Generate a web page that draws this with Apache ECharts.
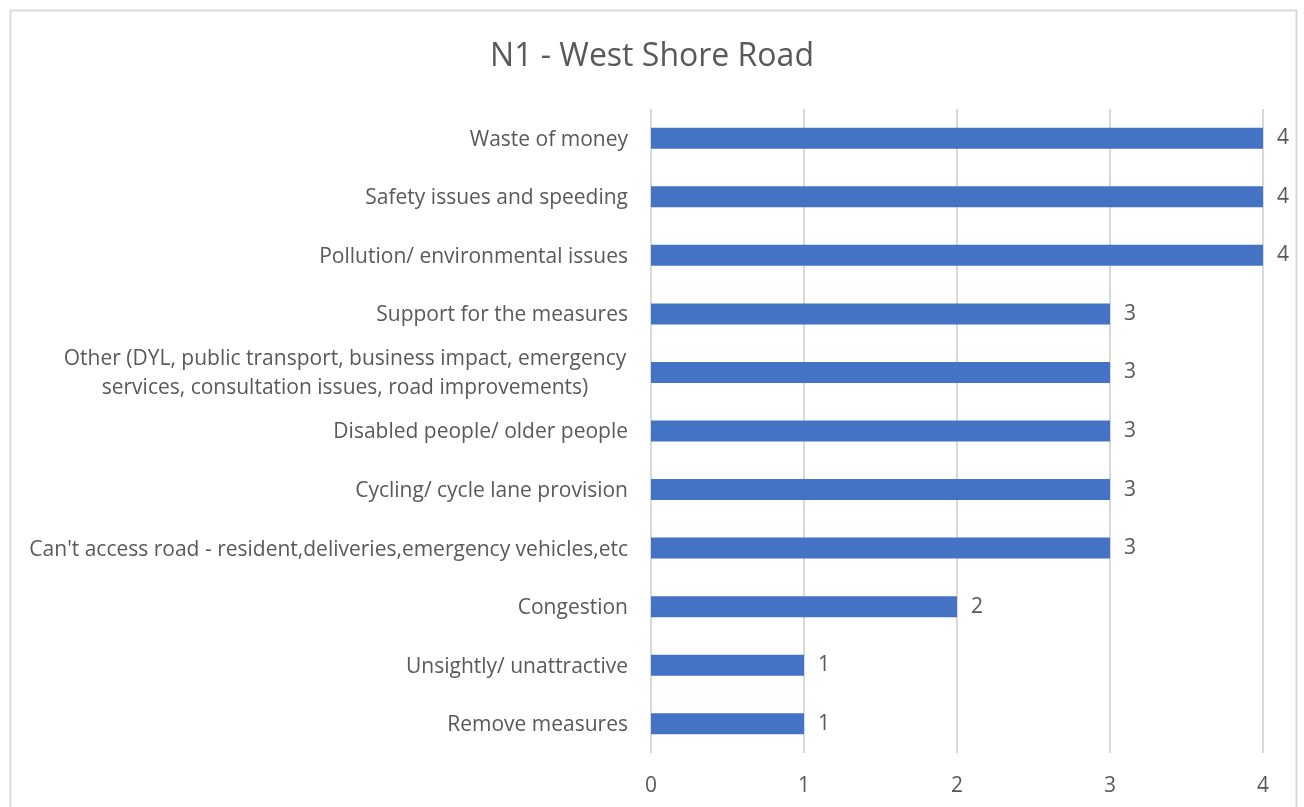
<!DOCTYPE html>
<html>
<head>
<meta charset="utf-8">
<script src="https://cdn.jsdelivr.net/npm/echarts@6/dist/echarts.min.js"></script>
<style>
  html, body { margin: 0; padding: 0; background: #fff; }
  #chart { width: 1304px; height: 807px; }
</style>
</head>
<body>
<div id="chart"></div>
<script>
// categories, top to bottom
const categories = [
    'Waste of money',
    'Safety issues and speeding',
    'Pollution/ environmental issues',
    'Support for the measures',
    'Other (DYL, public transport, business impact, emergency\nservices, consultation issues, road improvements)',
    'Disabled people/ older people',
    'Cycling/ cycle lane provision',
    "Can't access road - resident,deliveries,emergency vehicles,etc",
    'Congestion',
    'Unsightly/ unattractive',
    'Remove measures'
];
const counts = [4, 4, 4, 3, 3, 3, 3, 3, 2, 1, 1];
const xTicks = [0, 1, 2, 3, 4];

const textColor = '#595959';
const fontFamily = '"Open Sans", sans-serif';

const chart = echarts.init(document.getElementById('chart'));

chart.setOption({
    backgroundColor: '#fff',
    textStyle: { fontFamily: fontFamily },
    title: {
        text: 'N1 - West Shore Road',
        left: 'center',
        top: 36,
        textStyle: { color: textColor, fontSize: 32, fontWeight: 'normal', fontFamily: fontFamily }
    },
    graphic: [{
        type: 'rect',
        shape: { x: 10.5, y: 10.5, width: 1286, height: 820 },
        style: { fill: 'none', stroke: '#d9d9d9', lineWidth: 2 },
        silent: true
    }],
    grid: { left: 651, right: 41, top: 109, bottom: 54 },
    xAxis: {
        type: 'value',
        min: xTicks[0],
        max: xTicks[xTicks.length - 1],
        interval: 1,
        axisLine: { show: false },
        axisTick: { show: false },
        axisLabel: { color: textColor, fontSize: 21, margin: 23 },
        splitLine: { lineStyle: { color: '#d9d9d9', width: 2 } }
    },
    yAxis: {
        type: 'category',
        inverse: true,
        data: categories,
        axisLine: { show: false },
        axisTick: { show: false },
        axisLabel: {
            color: textColor,
            fontSize: 21,
            margin: 23,
            padding: [3, 0, 0, 0],
            formatter: (v) => {
                if (v.indexOf('\n') < 0) return v;
                return v.split('\n').map(s => '{c|' + s + '}').join('\n');
            },
            rich: {
                c: { width: 566, align: 'center', color: textColor, fontSize: 21, lineHeight: 29 }
            }
        }
    },
    series: [{
        type: 'bar',
        data: counts,
        barWidth: 21,
        itemStyle: { color: '#4472C4' },
        label: {
            show: true,
            position: 'right',
            distance: 14,
            color: textColor,
            fontSize: 21
        }
    }]
});
</script>
</body>
</html>
